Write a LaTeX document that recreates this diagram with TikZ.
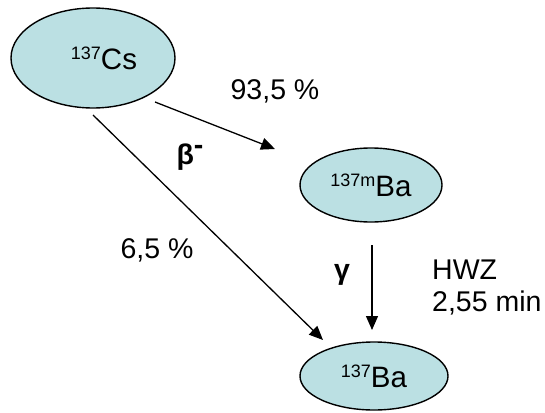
\documentclass[tikz,border=0pt]{standalone}
\usepackage{fontspec}
\setmainfont{Liberation Sans}
\usetikzlibrary{shapes.geometric,arrows.meta}
\definecolor{isofill}{HTML}{BBE0E3}
\tikzset{
  iso/.style={ellipse, draw=black, line width=1.4pt, fill=isofill, inner sep=0pt},
  conn/.style={line width=1.3pt, -{Triangle[length=14pt,width=12pt]}},
  lbl/.style={font=\fontsize{28.5}{32}\selectfont, inner sep=0pt},
  nuc/.style={font=\fontsize{29.5}{32}\selectfont},
}
\newcommand{\sups}[1]{\raisebox{10pt}{\fontsize{18}{20}\selectfont #1}}
\begin{document}
\begin{tikzpicture}[x=1pt,y=-1pt]
\useasboundingbox (0,0) rectangle (545,412);
\node[iso, nuc, minimum width=164pt, minimum height=100pt] (cs) at (93,58) {\hspace*{22pt}\sups{137}Cs};
\node[iso, nuc, minimum width=142pt, minimum height=74pt] (mba) at (371,185) {\sups{137m}Ba};
\node[iso, nuc, minimum width=148pt, minimum height=68pt] (ba) at (374,376) {\sups{137}Ba};
\coordinate (a1s) at (155,102);
\coordinate (a1e) at (275,149);
\coordinate (a2s) at (93,115);
\coordinate (a2e) at (323,340);
\coordinate (a3s) at (372,245);
\coordinate (a3e) at (372,330);
\draw[conn] (a1s) -- (a1e);
\draw[conn] (a2s) -- (a2e);
\draw[conn] (a3s) -- (a3e);
\node[lbl] (p935) at (275,91) {93,5 \%};
\node[lbl] (beta) at (190,157) {\textbf{β}\raisebox{10pt}{\textbf{-}}};
\node[lbl] (p65) at (157,250) {6,5 \%};
\node[lbl] (gam) at (342,275) {\textbf{γ}};
\node[lbl, anchor=west] (hwz) at (432,270) {HWZ};
\node[lbl, anchor=west] (hl) at (432,303) {2,55 min};
\end{tikzpicture}
\end{document}
